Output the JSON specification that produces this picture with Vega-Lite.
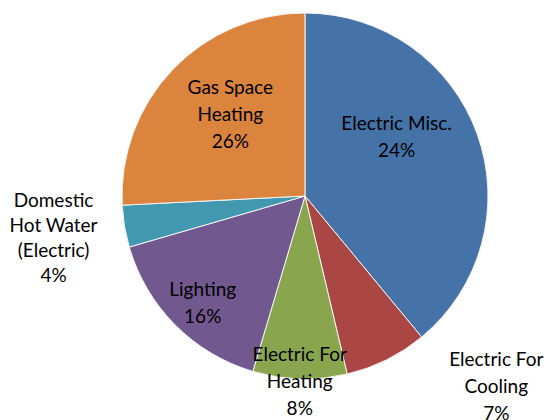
{
  "$schema": "https://vega.github.io/schema/vega-lite/v6.json",
  "autosize": "none",
  "width": 366,
  "height": 366,
  "padding": {"left": 122, "top": 13, "right": 57, "bottom": 41},
  "background": "white",
  "config": {"view": {"stroke": null}, "text": {"font": "Lato", "fontSize": 19, "color": "#000000", "lineBreak": "\n", "lineHeight": 27, "align": "center", "baseline": "middle"}},
  "data": {"values": [
    {"k": 1, "cat": "Electric Misc.", "value": 39.0, "label": "Electric Misc.\n24%"},
    {"k": 2, "cat": "Electric For Cooling", "value": 7.3, "label": "Electric For\nCooling\n7%"},
    {"k": 3, "cat": "Electric For Heating", "value": 8.3, "label": "Electric For\nHeating\n8%"},
    {"k": 4, "cat": "Lighting", "value": 15.9, "label": "Lighting\n16%"},
    {"k": 5, "cat": "Domestic Hot Water (Electric)", "value": 3.7, "label": "Domestic\nHot Water\n(Electric)\n4%"},
    {"k": 6, "cat": "Gas Space Heating", "value": 25.8, "label": "Gas Space\nHeating\n26%"}
  ]},
  "encoding": {
    "theta": {"field": "value", "type": "quantitative", "stack": true},
    "order": {"field": "k", "type": "quantitative"}
  },
  "layer": [
    {
      "mark": {"type": "arc", "stroke": "#f4f4f4", "strokeWidth": 1},
      "encoding": {
        "color": {"field": "cat", "type": "nominal", "legend": null,
          "scale": {"domain": ["Electric Misc.", "Electric For Cooling", "Electric For Heating", "Lighting", "Domestic Hot Water (Electric)", "Gas Space Heating"],
                    "range": ["#4572A7", "#AA4643", "#89A54E", "#71588F", "#4198AF", "#DB843D"]}}
      }
    },
    {
      "mark": {"type": "text", "radius": 109, "dx": -11, "dy": -35},
      "encoding": {"text": {"condition": {"test": "datum.cat === 'Electric Misc.'", "field": "label"}, "value": ""}}
    },
    {
      "mark": {"type": "text", "radius": 110, "dx": 5, "dy": -32},
      "encoding": {"text": {"condition": {"test": "datum.cat === 'Gas Space Heating'", "field": "label"}, "value": ""}}
    },
    {
      "mark": {"type": "text", "radius": 147, "dx": 2, "dy": -10},
      "encoding": {"text": {"condition": {"test": "datum.cat === 'Lighting'", "field": "label"}, "value": ""}}
    },
    {
      "mark": {"type": "text", "radius": 186, "dx": 0, "dy": -27},
      "encoding": {"text": {"condition": {"test": "datum.cat === 'Electric For Heating'", "field": "label"}, "value": ""}}
    },
    {
      "mark": {"type": "text", "radius": 270, "dx": 71, "dy": -78},
      "encoding": {"text": {"condition": {"test": "datum.cat === 'Electric For Cooling'", "field": "label"}, "value": ""}}
    },
    {
      "mark": {"type": "text", "radius": 255, "dx": 0, "dy": -37, "lineHeight": 25},
      "encoding": {"text": {"condition": {"test": "datum.cat === 'Domestic Hot Water (Electric)'", "field": "label"}, "value": ""}}
    }
  ]
}
